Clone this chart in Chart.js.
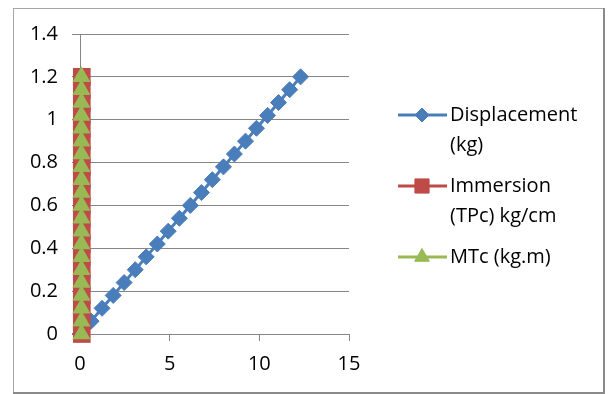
<!DOCTYPE html>
<html>
<head>
<meta charset="utf-8">
<script src="https://cdn.jsdelivr.net/npm/chart.js@4.4.1/dist/chart.umd.min.js"></script>
<style>
  html, body { margin: 0; padding: 0; background: #fff; }
  #wrap { position: relative; width: 608px; height: 394px; }
</style>
</head>
<body>
<div id="wrap"><canvas id="scatter-chart" width="608" height="394"></canvas></div>
<script>
// DATA
const seriesNames = ['Displacement (kg)', 'Immersion (TPc) kg/cm', 'MTc (kg.m)'];
const legendLines = [['Displacement', '(kg)'], ['Immersion', '(TPc) kg/cm'], ['MTc (kg.m)']];
const draftY = [0, 0.06, 0.12, 0.18, 0.24, 0.3, 0.36, 0.42, 0.48, 0.54, 0.6,
                0.66, 0.72, 0.78, 0.84, 0.9, 0.96, 1.02, 1.08, 1.14, 1.2];
const displacementX = [0, 0.62, 1.23, 1.85, 2.46, 3.08, 3.69, 4.31, 4.92, 5.54, 6.15,
                       6.77, 7.38, 8.0, 8.61, 9.23, 9.84, 10.46, 11.07, 11.69, 12.3];
const immersionX = [0.1, 0.1, 0.1, 0.1, 0.1, 0.1, 0.1, 0.1, 0.1, 0.1, 0.1,
                    0.1, 0.1, 0.1, 0.1, 0.1, 0.1, 0.1, 0.1, 0.1, 0.1];
const mtcX = [0.08, 0.08, 0.08, 0.08, 0.08, 0.08, 0.08, 0.08, 0.08, 0.08, 0.08,
              0.08, 0.08, 0.08, 0.08, 0.08, 0.08, 0.08, 0.08, 0.08, 0.08];
const xTicks = [0, 5, 10, 15];
const yTicks = [0, 0.2, 0.4, 0.6, 0.8, 1, 1.2, 1.4];

const FONT = '"Open Sans", sans-serif';

function pts(xs, ys) {
  return xs.map((x, i) => ({ x: x, y: ys[i] }));
}

// frame around the whole chart + custom legend with wrapped text
const frameAndLegend = {
  id: 'frameAndLegend',
  beforeDraw(chart) {
    const c = chart.ctx;
    c.save();
    c.fillStyle = '#fff';
    c.fillRect(0, 0, chart.width, chart.height);
    c.strokeStyle = '#a6a6a6';
    c.lineWidth = 1;
    c.strokeRect(13.5, 8.5, 590, 384);
    c.strokeStyle = '#8a8a8a';
    c.lineWidth = 2;
    c.beginPath();
    c.moveTo(604, 8); c.lineTo(604, 393); c.lineTo(13, 393);
    c.stroke();
    c.restore();
  },
  afterDraw(chart) {
    const c = chart.ctx;
    const tops = [115, 186, 257];
    c.save();
    c.font = '20px ' + FONT;
    c.textBaseline = 'middle';
    chart.data.datasets.forEach((ds, i) => {
      const y = tops[i];
      c.strokeStyle = ds.borderColor;
      c.lineWidth = 3;
      c.beginPath();
      c.moveTo(398, y); c.lineTo(447, y);
      c.stroke();
      c.fillStyle = ds.backgroundColor;
      c.strokeStyle = ds.borderColor;
      c.lineWidth = 1;
      Chart.helpers.drawPoint(c, { pointStyle: ds.pointStyle, radius: ds.legendRadius, rotation: 0, borderWidth: 1 }, 422, y);
      c.fillStyle = '#000';
      legendLines[i].forEach((t, k) => c.fillText(t, 450, y + k * 30));
    });
    c.restore();
  }
};

const ctx = document.getElementById('scatter-chart');
new Chart(ctx, {
  type: 'scatter',
  data: {
    datasets: [{
      label: seriesNames[0],
      data: pts(displacementX, draftY),
      showLine: true,
      clip: false,
      borderColor: '#4a7ebb',
      backgroundColor: '#4a7ebb',
      borderWidth: 3,
      pointStyle: 'rectRot',
      pointRadius: 8,
      pointBorderWidth: 1,
      legendRadius: 7,
      order: 3
    }, {
      label: seriesNames[1],
      data: pts(immersionX, draftY),
      showLine: true,
      clip: false,
      borderColor: '#be4b48',
      backgroundColor: '#be4b48',
      borderWidth: 3,
      pointStyle: 'rect',
      pointRadius: 12.5,
      pointBorderWidth: 0,
      legendRadius: 10,
      order: 2
    }, {
      label: seriesNames[2],
      data: pts(mtcX, draftY),
      showLine: true,
      clip: false,
      borderColor: '#98b954',
      backgroundColor: '#98b954',
      borderWidth: 3,
      pointStyle: 'triangle',
      pointRadius: 10.5,
      pointBorderWidth: 0,
      legendRadius: 8.5,
      order: 1
    }]
  },
  options: {
    responsive: false,
    animation: false,
    layout: { padding: { left: 0, top: 34, right: 259, bottom: 0 } },
    plugins: {
      legend: { display: false },
      tooltip: { enabled: false }
    },
    scales: {
      x: {
        type: 'linear',
        min: 0, max: 15,
        afterBuildTicks: s => { s.ticks = xTicks.map(v => ({ value: v })); },
        afterFit: s => { s.height = 60; },
        grid: { drawOnChartArea: false, drawTicks: true, tickLength: 7, color: '#868686' },
        border: { color: '#868686' },
        ticks: { color: '#000', padding: 11, font: { family: FONT, size: 20 }, callback: v => String(v) }
      },
      y: {
        type: 'linear',
        min: 0, max: 1.4,
        afterBuildTicks: s => { s.ticks = yTicks.map(v => ({ value: v })); },
        afterFit: s => { s.width = 80; },
        grid: { color: '#868686', tickLength: 8 },
        border: { color: '#868686' },
        ticks: { color: '#000', padding: 14, font: { family: FONT, size: 20 }, callback: v => String(v) }
      }
    }
  },
  plugins: [frameAndLegend]
});
</script>
</body>
</html>
